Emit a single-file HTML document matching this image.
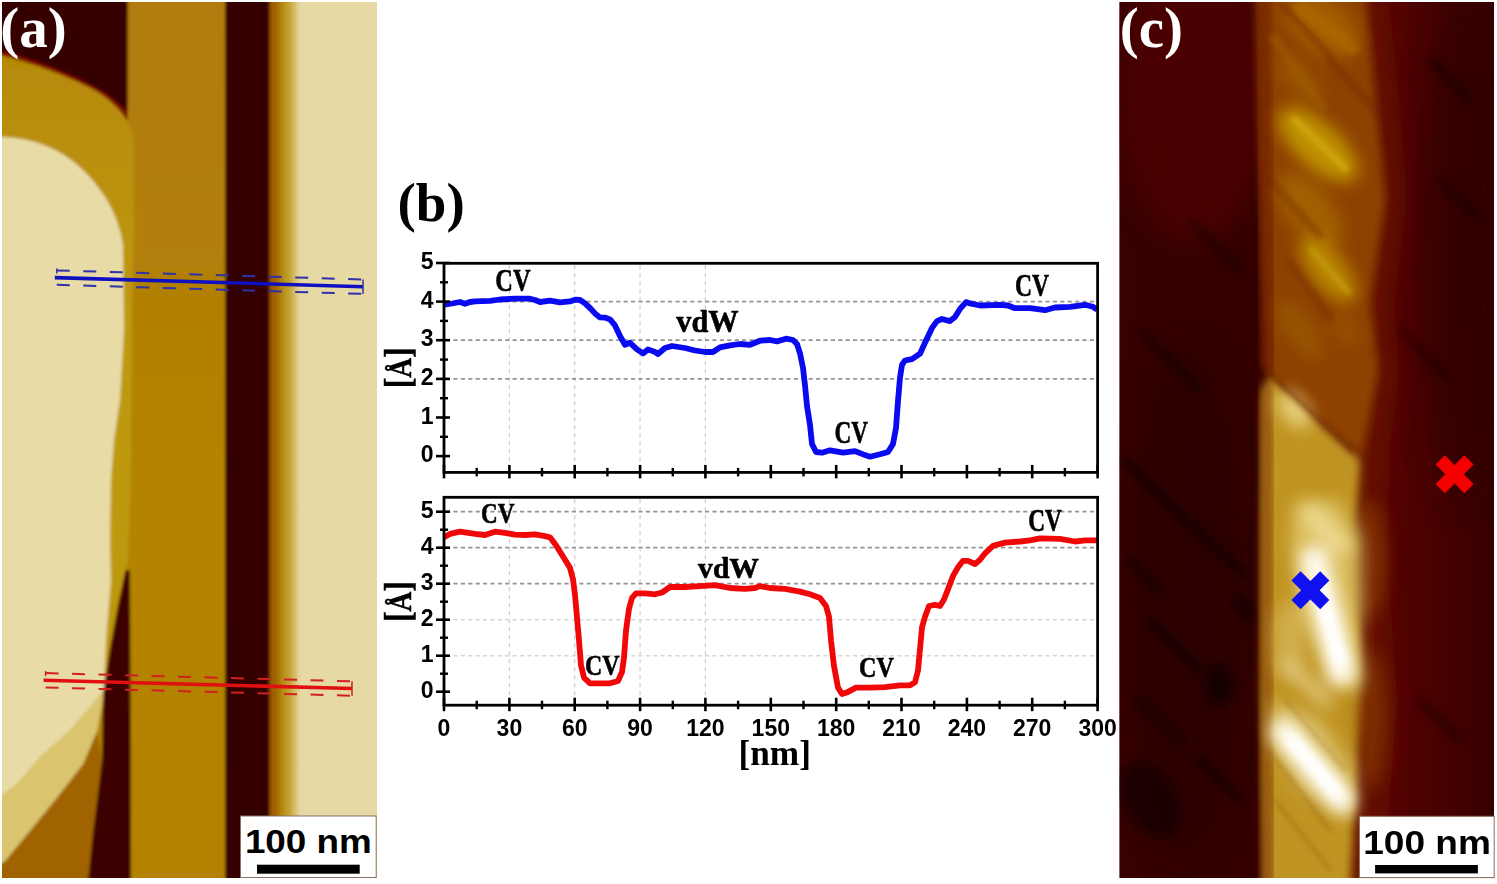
<!DOCTYPE html><html><head><meta charset="utf-8"><style>html,body{margin:0;padding:0;background:#fff;width:1497px;height:884px;overflow:hidden}svg{display:block}</style></head><body>
<svg width="1497" height="884" viewBox="0 0 1497 884">
<rect width="1497" height="884" fill="#fff"/>
<svg x="2" y="2" width="375" height="876" viewBox="2 2 375 876" overflow="hidden">
<defs><filter id="fa" x="-5%" y="-5%" width="110%" height="110%"><feGaussianBlur stdDeviation="1.6"/></filter><filter id="fa2" x="-20%" y="-20%" width="140%" height="140%"><feGaussianBlur stdDeviation="4"/></filter><linearGradient id="b4" x1="266" x2="300" y1="0" y2="0" gradientUnits="userSpaceOnUse"><stop offset="0" stop-color="#985000"/><stop offset="0.12" stop-color="#9c5600"/><stop offset="0.3" stop-color="#a26400"/><stop offset="0.48" stop-color="#b48a10"/><stop offset="0.7" stop-color="#c6a434"/><stop offset="0.88" stop-color="#d8c474"/><stop offset="1" stop-color="#e6d9a4"/></linearGradient><linearGradient id="lg" x1="0" x2="0" y1="60" y2="320" gradientUnits="userSpaceOnUse"><stop offset="0" stop-color="#b68a06"/><stop offset="1" stop-color="#be9810"/></linearGradient><linearGradient id="b2g" x1="0" x2="0" y1="0" y2="884" gradientUnits="userSpaceOnUse"><stop offset="0" stop-color="#b07c08"/><stop offset="0.35" stop-color="#b28006"/><stop offset="0.6" stop-color="#b48406"/><stop offset="1" stop-color="#b28206"/></linearGradient><pattern id="stripA" width="9" height="9" patternUnits="userSpaceOnUse" patternTransform="rotate(50)"><rect width="9" height="3" fill="#fff" opacity="0.10"/><rect y="5" width="9" height="2" fill="#000" opacity="0.04"/></pattern><pattern id="stripB" width="34" height="34" patternUnits="userSpaceOnUse" patternTransform="rotate(48)"><rect width="34" height="10" fill="#5a3000" opacity="0.10"/></pattern></defs>
<g filter="url(#fa)">
<rect x="-10" y="-10" width="400" height="900" fill="url(#b2g)"/>
<path d="M -10 700 L 100 700 L 97 731 L 83 764 L 55 800 L 28 833 L 5 861 L -10 880 Z" fill="#c09020"/>
<path d="M -10 780 L 5 861 L 28 833 L 55 800 L 83 764 L 97 731 L 102 760 L 94 833 L 88 890 L -10 890 Z" fill="#a06404"/>
<path d="M -10 50 L 127.5 50 L 127.5 122 L 134 135 L 134 230 L 132 300 L 131 480 L 128 560 L 125 575 L 110 650 L 103 700 L 97 731 L 83 764 L 55 800 L 28 833 L 5 861 L -10 870 Z" fill="url(#lg)"/>
<path d="M -10 760 L 2 795 L 17 784 L 41 756 L 69 731 L 91 706 L 104 690 L 103 700 L 97 731 L 83 764 L 55 800 L 28 833 L 5 861 L -10 870 Z" fill="#dac46e"/>
<path d="M -10 137 L 2 137 C 35 138 65 150 88 175 C 104 193 118 213 123 245 L 124 330 L 120 400 L 114 440 L 111 480 L 110 540 L 111 580 L 106 640 L 104 690 L 91 706 L 69 731 L 41 756 L 17 784 L 2 795 L -10 800 Z" fill="#e8dba6"/>
<path d="M -10 -10 L 127.5 -10 L 127.5 121 C 121 111 111 100 96 91 C 70 77 35 63 -10 53 Z" fill="#7a0c00"/>
<path d="M -10 -10 L 127.5 -10 L 127.5 112 C 119 102 106 92 86 82 C 60 69 30 57 -10 48 Z" fill="#340000"/>
<rect x="266" y="-10" width="34" height="900" fill="url(#b4)"/>
<rect x="300" y="-10" width="100" height="900" fill="#e6d9a4"/>
<rect x="225" y="-10" width="44.5" height="900" fill="#360000"/>
<path d="M 125.5 570 L 130 570 L 130.5 700 L 131 890 L 87 890 L 93 833 L 102 760 L 103 695 L 109.7 650 L 118 605 Z" fill="#3c0000"/>
</g>
<line x1="54.8" y1="277.6" x2="363.0" y2="286.7" stroke="#1010c0" stroke-width="3.6"/>
<line x1="56.8" y1="270.4" x2="363.0" y2="279.5" stroke="#3030a8" stroke-width="2" stroke-dasharray="13 13.5"/>
<line x1="56.8" y1="284.8" x2="363.0" y2="293.9" stroke="#3030a8" stroke-width="2" stroke-dasharray="13 13.5"/>
<line x1="363.0" y1="279.5" x2="363.0" y2="293.9" stroke="#3030a8" stroke-width="1.5"/>
<line x1="56.8" y1="268.4" x2="56.8" y2="273.4" stroke="#3030a8" stroke-width="1.5"/>
<line x1="43.6" y1="680.3" x2="352.0" y2="688.5" stroke="#e01010" stroke-width="3.6"/>
<line x1="45.6" y1="673.1" x2="352.0" y2="681.3" stroke="#d02020" stroke-width="2" stroke-dasharray="13 13.5"/>
<line x1="45.6" y1="687.5" x2="352.0" y2="695.7" stroke="#d02020" stroke-width="2" stroke-dasharray="13 13.5"/>
<line x1="352.0" y1="681.3" x2="352.0" y2="695.7" stroke="#d02020" stroke-width="1.5"/>
<line x1="45.6" y1="671.1" x2="45.6" y2="676.1" stroke="#d02020" stroke-width="1.5"/>
</svg>
<rect x="240.5" y="816.0" width="135.7" height="61.5" fill="#fff" stroke="#8a7060" stroke-width="1"/>
<text x="244.9" y="853.4" textLength="126.9" lengthAdjust="spacingAndGlyphs" style="font-family:'Liberation Sans',sans-serif;font-weight:bold;font-size:33px">100 nm</text>
<rect x="257.0" y="864.7" width="102.7" height="9.0" fill="#000"/>
<text x="0.3" y="46.6" fill="#fff" style="font-family:'Liberation Serif',serif;font-weight:bold;font-size:57px">(a)</text>
<svg x="1119.4" y="2" width="374.6" height="876" viewBox="1119.4 2 374.6 876" overflow="hidden">
<defs><filter id="cb2" x="-50%" y="-50%" width="200%" height="200%"><feGaussianBlur stdDeviation="2.5"/></filter><filter id="cb4" x="-50%" y="-50%" width="200%" height="200%"><feGaussianBlur stdDeviation="4"/></filter><filter id="cb8" x="-50%" y="-50%" width="200%" height="200%"><feGaussianBlur stdDeviation="8"/></filter><filter id="cb16" x="-50%" y="-50%" width="200%" height="200%"><feGaussianBlur stdDeviation="14"/></filter><linearGradient id="cbg" x1="1120" x2="1494" y1="0" y2="0" gradientUnits="userSpaceOnUse"><stop offset="0" stop-color="#380000"/><stop offset="0.35" stop-color="#340000"/><stop offset="0.68" stop-color="#5a0400"/><stop offset="0.8" stop-color="#4c0200"/><stop offset="1" stop-color="#360000"/></linearGradient></defs>
<rect x="1100" y="0" width="400" height="890" fill="url(#cbg)"/>
<g filter="url(#cb16)">
<ellipse cx="1195" cy="90" rx="75" ry="150" fill="#4e0000" opacity="0.9"/>
<ellipse cx="1185" cy="600" rx="60" ry="260" fill="#2a0000" opacity="0.7"/>
<ellipse cx="1460" cy="250" rx="40" ry="260" fill="#2c0000" opacity="0.5"/>
</g>
<g filter="url(#cb4)" stroke-linecap="round">
<line x1="1124" y1="460" x2="1244" y2="575" stroke="#0c0000" stroke-width="5" opacity="0.80"/>
<line x1="1239" y1="600" x2="1250" y2="615" stroke="#0c0000" stroke-width="10" opacity="0.80"/>
<line x1="1140" y1="330" x2="1200" y2="390" stroke="#0c0000" stroke-width="5" opacity="0.60"/>
<line x1="1190" y1="220" x2="1240" y2="270" stroke="#0c0000" stroke-width="5" opacity="0.50"/>
<line x1="1150" y1="620" x2="1200" y2="670" stroke="#0c0000" stroke-width="6" opacity="0.70"/>
<line x1="1130" y1="560" x2="1160" y2="590" stroke="#0c0000" stroke-width="6" opacity="0.60"/>
<line x1="1200" y1="760" x2="1240" y2="800" stroke="#0c0000" stroke-width="6" opacity="0.60"/>
<line x1="1140" y1="700" x2="1180" y2="740" stroke="#0c0000" stroke-width="8" opacity="0.70"/>
<line x1="1430" y1="60" x2="1470" y2="100" stroke="#0c0000" stroke-width="5" opacity="0.60"/>
<line x1="1440" y1="180" x2="1480" y2="220" stroke="#0c0000" stroke-width="5" opacity="0.60"/>
<line x1="1400" y1="330" x2="1450" y2="380" stroke="#0c0000" stroke-width="5" opacity="0.50"/>
<line x1="1420" y1="700" x2="1460" y2="740" stroke="#0c0000" stroke-width="5" opacity="0.50"/>
<ellipse cx="1219" cy="685" rx="14" ry="20" fill="#0c0000" opacity="0.8"/>
<ellipse cx="1150" cy="800" rx="25" ry="40" transform="rotate(-30 1150 800)" fill="#0c0000" opacity="0.7"/>
</g>
<g filter="url(#cb16)">
<path d="M 1300 -10 L 1378 -10 L 1390 100 L 1398 200 L 1385 300 L 1390 380 L 1380 450 L 1378 560 L 1388 700 L 1380 800 L 1375 890 L 1300 890 Z" fill="#6a1400"/>
</g>
<g filter="url(#cb4)">
<path d="M 1256 -10 L 1365 -10 L 1375 100 L 1385 200 L 1370 300 L 1378 370 L 1362 455 L 1268 380 L 1266 300 L 1260 150 Z" fill="#8e4200"/>
<path d="M 1268 378 L 1360 460 L 1355 550 L 1362 700 L 1355 800 L 1350 890 L 1266 890 L 1262 700 L 1263 400 Z" fill="#c09420"/>
</g>
<g filter="url(#cb4)"><line x1="1267" y1="385" x2="1268" y2="890" stroke="#9a5a08" stroke-width="12"/><line x1="1262" y1="-10" x2="1270" y2="370" stroke="#782400" stroke-width="16" opacity="0.85"/></g>
<g filter="url(#cb8)">
<ellipse cx="1322" cy="25" rx="42" ry="26" transform="rotate(40 1322 25)" fill="#a86400" opacity="0.80"/>
<ellipse cx="1300" cy="80" rx="30" ry="14" transform="rotate(50 1300 80)" fill="#a06000" opacity="0.60"/>
<ellipse cx="1318" cy="145" rx="50" ry="22" transform="rotate(42 1318 145)" fill="#c49a00" opacity="0.90"/>
<ellipse cx="1310" cy="210" rx="45" ry="22" transform="rotate(50 1310 210)" fill="#a86c00" opacity="0.70"/>
<ellipse cx="1328" cy="270" rx="40" ry="18" transform="rotate(52 1328 270)" fill="#c09000" opacity="0.85"/>
<ellipse cx="1300" cy="330" rx="35" ry="14" transform="rotate(55 1300 330)" fill="#9c6000" opacity="0.60"/>
<ellipse cx="1345" cy="330" rx="20" ry="12" transform="rotate(50 1345 330)" fill="#9c5c00" opacity="0.50"/>
<ellipse cx="1368" cy="560" rx="18" ry="60" transform="rotate(0 1368 560)" fill="#8a3c00" opacity="0.70"/>
<ellipse cx="1372" cy="720" rx="16" ry="70" transform="rotate(0 1372 720)" fill="#8a3c00" opacity="0.60"/>
<path d="M 1295 500 L 1340 500 L 1358 540 L 1358 690 L 1330 680 L 1300 610 L 1290 540 Z" fill="#dcc060" opacity="0.95"/>
<path d="M 1272 700 L 1320 720 L 1352 770 L 1350 820 L 1300 790 L 1276 750 Z" fill="#dcc470" opacity="0.9"/>
<ellipse cx="1294" cy="410" rx="22" ry="13" transform="rotate(50 1294 410)" fill="#e4cc78"/>
<ellipse cx="1290" cy="640" rx="16" ry="40" fill="#d4b458" opacity="0.8"/>
</g>
<g filter="url(#cb8)" stroke-linecap="round">
<line x1="1314" y1="560" x2="1342" y2="672" stroke="#fffcf0" stroke-width="28"/>
<line x1="1312" y1="515" x2="1340" y2="545" stroke="#ecd890" stroke-width="20"/>
<line x1="1284" y1="732" x2="1342" y2="800" stroke="#fffcf0" stroke-width="26"/>
<line x1="1288" y1="665" x2="1325" y2="700" stroke="#e4cc88" stroke-width="16" opacity="0.8"/>
</g>
<g filter="url(#cb4)" stroke-linecap="round">
<line x1="1318" y1="585" x2="1340" y2="660" stroke="#ffffff" stroke-width="12"/>
<line x1="1292" y1="740" x2="1336" y2="792" stroke="#ffffff" stroke-width="12"/>
</g>
<g filter="url(#cb2)" stroke-linecap="round">
<line x1="1268" y1="372" x2="1352" y2="450" stroke="#6a2000" stroke-width="5.0" opacity="0.60"/>
<line x1="1302" y1="8" x2="1352" y2="48" stroke="#b06c00" stroke-width="14.0" opacity="0.60"/>
<line x1="1274" y1="38" x2="1322" y2="106" stroke="#a05c00" stroke-width="10.0" opacity="0.50"/>
<line x1="1284" y1="6" x2="1332" y2="58" stroke="#6a1c00" stroke-width="5.0" opacity="0.45"/>
<line x1="1270" y1="180" x2="1320" y2="236" stroke="#6a1c00" stroke-width="5.0" opacity="0.40"/>
<line x1="1290" y1="262" x2="1330" y2="318" stroke="#6a1c00" stroke-width="5.0" opacity="0.40"/>
<line x1="1330" y1="60" x2="1375" y2="110" stroke="#6a1c00" stroke-width="5.0" opacity="0.40"/>
<line x1="1295" y1="120" x2="1345" y2="168" stroke="#d0a810" stroke-width="8.0" opacity="0.80"/>
<line x1="1312" y1="250" x2="1348" y2="292" stroke="#c8a010" stroke-width="6.0" opacity="0.70"/>
<line x1="1268" y1="750" x2="1330" y2="830" stroke="#8a5400" stroke-width="2.5" opacity="0.50"/>
<line x1="1275" y1="800" x2="1330" y2="870" stroke="#8a5400" stroke-width="2.5" opacity="0.50"/>
<line x1="1285" y1="700" x2="1345" y2="770" stroke="#8a5400" stroke-width="2.5" opacity="0.40"/>
</g>
<path d="M 1440.2 459.8 L 1469.0 488.6 M 1440.2 488.6 L 1469.0 459.8" stroke="#f40000" stroke-width="13" stroke-linecap="butt"/>
<path d="M 1296.0 575.8 L 1324.8 604.6 M 1296.0 604.6 L 1324.8 575.8" stroke="#1010f0" stroke-width="13" stroke-linecap="butt"/>
</svg>
<rect x="1359.4" y="816.3" width="134.8" height="61.3" fill="#fff" stroke="#8a7060" stroke-width="1"/>
<text x="1363.2" y="853.5" textLength="127.7" lengthAdjust="spacingAndGlyphs" style="font-family:'Liberation Sans',sans-serif;font-weight:bold;font-size:33px">100 nm</text>
<rect x="1375.1" y="865.0" width="102.8" height="8.4" fill="#000"/>
<text x="1119.8" y="46.6" fill="#fff" style="font-family:'Liberation Serif',serif;font-weight:bold;font-size:57px">(c)</text>
<text x="397.5" y="221.3" style="font-family:'Liberation Serif',serif;font-weight:bold;font-size:55px">(b)</text>
<line x1="509.4" y1="265.3" x2="509.4" y2="470.4" stroke="#cfcfcf" stroke-width="1.3" stroke-dasharray="4 4"/>
<line x1="574.7" y1="265.3" x2="574.7" y2="470.4" stroke="#cfcfcf" stroke-width="1.3" stroke-dasharray="4 4"/>
<line x1="640.1" y1="265.3" x2="640.1" y2="470.4" stroke="#cfcfcf" stroke-width="1.3" stroke-dasharray="4 4"/>
<line x1="705.4" y1="265.3" x2="705.4" y2="470.4" stroke="#cfcfcf" stroke-width="1.3" stroke-dasharray="4 4"/>
<line x1="446.0" y1="301.6" x2="1095.6" y2="301.6" stroke="#959595" stroke-width="1.8" stroke-dasharray="4.2 3.2"/>
<line x1="446.0" y1="340.2" x2="1095.6" y2="340.2" stroke="#959595" stroke-width="1.8" stroke-dasharray="4.2 3.2"/>
<line x1="446.0" y1="378.9" x2="1095.6" y2="378.9" stroke="#959595" stroke-width="1.8" stroke-dasharray="4.2 3.2"/>
<polyline points="444.0,304.7 452.0,303.5 460.0,302.0 465.0,303.8 470.0,302.0 475.0,301.4 490.0,300.9 500.0,299.5 515.0,298.7 530.0,298.7 535.0,300.0 540.0,302.0 550.0,300.7 560.0,302.4 570.0,301.4 575.0,299.7 580.0,300.0 585.0,303.4 590.0,308.0 595.0,313.4 600.0,317.4 605.0,317.6 610.0,319.4 615.0,325.4 620.0,336.0 625.0,344.8 630.0,342.8 637.0,349.4 643.0,353.4 648.0,349.4 655.0,352.0 658.0,354.0 665.0,348.0 672.0,346.0 685.0,348.0 695.0,350.5 705.0,352.0 713.0,352.0 720.0,347.4 730.0,345.4 740.0,344.0 750.0,344.8 760.0,340.7 770.0,340.0 777.0,341.4 786.0,338.7 793.0,340.0 797.0,344.0 800.0,353.4 803.0,368.0 805.0,385.4 807.0,406.0 810.0,425.0 812.0,444.0 816.0,452.0 822.0,452.7 830.0,450.3 843.0,452.7 855.0,451.1 865.0,455.1 870.0,456.7 880.0,454.3 888.0,452.0 893.0,444.0 896.0,428.0 898.0,401.0 900.0,377.5 902.0,364.8 905.0,360.5 912.0,359.1 920.0,353.7 925.0,342.8 932.0,327.9 937.0,321.1 942.0,319.0 950.0,321.1 955.0,317.0 960.0,308.9 966.0,302.1 970.0,303.4 980.0,305.5 1000.0,304.8 1008.0,305.5 1015.0,308.2 1030.0,308.2 1045.0,310.2 1055.0,307.5 1070.0,306.8 1085.0,304.8 1093.0,306.8 1097.0,309.6" fill="none" stroke="#0a0af0" stroke-width="5.8" stroke-linejoin="round" stroke-linecap="butt"/>
<rect x="444.0" y="263.3" width="653.6" height="209.1" fill="none" stroke="#000" stroke-width="2.8"/>
<line x1="436" y1="456.1" x2="450" y2="456.1" stroke="#000" stroke-width="2.6"/>
<text x="433.5" y="462.1" text-anchor="end" style="font-family:'Liberation Sans',sans-serif;font-weight:bold;font-size:23px">0</text>
<line x1="436" y1="417.5" x2="450" y2="417.5" stroke="#000" stroke-width="2.6"/>
<text x="433.5" y="423.5" text-anchor="end" style="font-family:'Liberation Sans',sans-serif;font-weight:bold;font-size:23px">1</text>
<line x1="436" y1="378.9" x2="450" y2="378.9" stroke="#000" stroke-width="2.6"/>
<text x="433.5" y="384.9" text-anchor="end" style="font-family:'Liberation Sans',sans-serif;font-weight:bold;font-size:23px">2</text>
<line x1="436" y1="340.2" x2="450" y2="340.2" stroke="#000" stroke-width="2.6"/>
<text x="433.5" y="346.2" text-anchor="end" style="font-family:'Liberation Sans',sans-serif;font-weight:bold;font-size:23px">3</text>
<line x1="436" y1="301.6" x2="450" y2="301.6" stroke="#000" stroke-width="2.6"/>
<text x="433.5" y="307.6" text-anchor="end" style="font-family:'Liberation Sans',sans-serif;font-weight:bold;font-size:23px">4</text>
<line x1="436" y1="263.0" x2="450" y2="263.0" stroke="#000" stroke-width="2.6"/>
<text x="433.5" y="269.0" text-anchor="end" style="font-family:'Liberation Sans',sans-serif;font-weight:bold;font-size:23px">5</text>
<line x1="440" y1="436.8" x2="448" y2="436.8" stroke="#000" stroke-width="2.4"/>
<line x1="440" y1="398.2" x2="448" y2="398.2" stroke="#000" stroke-width="2.4"/>
<line x1="440" y1="359.6" x2="448" y2="359.6" stroke="#000" stroke-width="2.4"/>
<line x1="440" y1="320.9" x2="448" y2="320.9" stroke="#000" stroke-width="2.4"/>
<line x1="440" y1="282.3" x2="448" y2="282.3" stroke="#000" stroke-width="2.4"/>
<line x1="444.0" y1="464.9" x2="444.0" y2="478.4" stroke="#000" stroke-width="2.6"/>
<line x1="476.7" y1="467.9" x2="476.7" y2="476.4" stroke="#000" stroke-width="2.4"/>
<line x1="509.4" y1="464.9" x2="509.4" y2="478.4" stroke="#000" stroke-width="2.6"/>
<line x1="542.0" y1="467.9" x2="542.0" y2="476.4" stroke="#000" stroke-width="2.4"/>
<line x1="574.7" y1="464.9" x2="574.7" y2="478.4" stroke="#000" stroke-width="2.6"/>
<line x1="607.4" y1="467.9" x2="607.4" y2="476.4" stroke="#000" stroke-width="2.4"/>
<line x1="640.1" y1="464.9" x2="640.1" y2="478.4" stroke="#000" stroke-width="2.6"/>
<line x1="672.8" y1="467.9" x2="672.8" y2="476.4" stroke="#000" stroke-width="2.4"/>
<line x1="705.4" y1="464.9" x2="705.4" y2="478.4" stroke="#000" stroke-width="2.6"/>
<line x1="738.1" y1="467.9" x2="738.1" y2="476.4" stroke="#000" stroke-width="2.4"/>
<line x1="770.8" y1="464.9" x2="770.8" y2="478.4" stroke="#000" stroke-width="2.6"/>
<line x1="803.5" y1="467.9" x2="803.5" y2="476.4" stroke="#000" stroke-width="2.4"/>
<line x1="836.2" y1="464.9" x2="836.2" y2="478.4" stroke="#000" stroke-width="2.6"/>
<line x1="868.8" y1="467.9" x2="868.8" y2="476.4" stroke="#000" stroke-width="2.4"/>
<line x1="901.5" y1="464.9" x2="901.5" y2="478.4" stroke="#000" stroke-width="2.6"/>
<line x1="934.2" y1="467.9" x2="934.2" y2="476.4" stroke="#000" stroke-width="2.4"/>
<line x1="966.9" y1="464.9" x2="966.9" y2="478.4" stroke="#000" stroke-width="2.6"/>
<line x1="999.6" y1="467.9" x2="999.6" y2="476.4" stroke="#000" stroke-width="2.4"/>
<line x1="1032.2" y1="464.9" x2="1032.2" y2="478.4" stroke="#000" stroke-width="2.6"/>
<line x1="1064.9" y1="467.9" x2="1064.9" y2="476.4" stroke="#000" stroke-width="2.4"/>
<line x1="1097.6" y1="464.9" x2="1097.6" y2="478.4" stroke="#000" stroke-width="2.6"/>
<text x="495.3" y="290.7" textLength="35.3" lengthAdjust="spacingAndGlyphs" stroke="#000" stroke-width="0.6" style="font-family:'Liberation Serif',serif;font-weight:bold;font-size:30.5px">CV</text>
<text x="676.3" y="331.5" textLength="62.3" lengthAdjust="spacingAndGlyphs" stroke="#000" stroke-width="0.6" style="font-family:'Liberation Serif',serif;font-weight:bold;font-size:31.0px">vdW</text>
<text x="834.6" y="443.4" textLength="33.5" lengthAdjust="spacingAndGlyphs" stroke="#000" stroke-width="0.6" style="font-family:'Liberation Serif',serif;font-weight:bold;font-size:30.5px">CV</text>
<text x="1015.0" y="295.5" textLength="34.1" lengthAdjust="spacingAndGlyphs" stroke="#000" stroke-width="0.6" style="font-family:'Liberation Serif',serif;font-weight:bold;font-size:30.5px">CV</text>
<line x1="509.4" y1="499.3" x2="509.4" y2="703.2" stroke="#cfcfcf" stroke-width="1.3" stroke-dasharray="4 4"/>
<line x1="574.7" y1="499.3" x2="574.7" y2="703.2" stroke="#cfcfcf" stroke-width="1.3" stroke-dasharray="4 4"/>
<line x1="640.1" y1="499.3" x2="640.1" y2="703.2" stroke="#cfcfcf" stroke-width="1.3" stroke-dasharray="4 4"/>
<line x1="705.4" y1="499.3" x2="705.4" y2="703.2" stroke="#cfcfcf" stroke-width="1.3" stroke-dasharray="4 4"/>
<line x1="446.0" y1="619.7" x2="1095.6" y2="619.7" stroke="#d6d6d6" stroke-width="1.6" stroke-dasharray="4 3.4"/>
<line x1="446.0" y1="655.7" x2="1095.6" y2="655.7" stroke="#d6d6d6" stroke-width="1.6" stroke-dasharray="4 3.4"/>
<line x1="446.0" y1="511.7" x2="1095.6" y2="511.7" stroke="#959595" stroke-width="1.8" stroke-dasharray="4.2 3.2"/>
<line x1="446.0" y1="547.7" x2="1095.6" y2="547.7" stroke="#959595" stroke-width="1.8" stroke-dasharray="4.2 3.2"/>
<line x1="446.0" y1="583.7" x2="1095.6" y2="583.7" stroke="#959595" stroke-width="1.8" stroke-dasharray="4.2 3.2"/>
<polyline points="444.0,537.3 450.0,533.9 460.0,531.7 475.0,533.9 485.0,535.0 495.0,531.7 505.0,532.8 515.0,534.6 525.0,535.0 535.0,534.4 545.0,536.2 550.0,537.3 556.0,545.2 563.0,556.6 570.0,567.9 573.0,579.2 575.0,595.0 577.0,617.6 579.0,640.3 581.0,665.2 584.0,677.6 590.0,683.3 600.0,683.3 610.0,683.3 618.0,681.0 622.0,672.0 624.0,657.6 626.0,630.5 629.0,608.8 632.0,597.9 636.0,593.4 645.0,593.4 655.0,594.3 662.0,592.5 670.0,587.0 685.0,587.0 700.0,586.1 715.0,585.2 730.0,588.0 745.0,588.9 755.0,588.0 760.0,586.1 770.0,588.0 785.0,588.9 800.0,591.6 810.0,594.3 820.0,597.9 826.0,606.0 829.0,616.7 831.0,640.3 834.0,666.1 838.0,687.6 842.0,694.0 848.0,691.9 856.0,687.6 870.0,687.6 885.0,687.2 900.0,685.4 910.0,685.4 915.0,682.2 918.0,670.4 920.0,648.9 922.0,627.4 925.0,616.7 929.0,606.0 935.0,604.9 940.0,606.0 944.0,599.5 949.0,586.6 953.0,575.9 958.0,567.3 963.0,560.8 968.0,560.8 975.0,564.0 980.0,559.8 985.0,553.3 993.0,545.8 1005.0,542.6 1020.0,541.5 1030.0,540.4 1040.0,538.3 1060.0,538.9 1075.0,541.5 1085.0,540.4 1097.0,540.4" fill="none" stroke="#f00808" stroke-width="5.8" stroke-linejoin="round" stroke-linecap="butt"/>
<rect x="444.0" y="497.3" width="653.6" height="207.9" fill="none" stroke="#000" stroke-width="2.8"/>
<line x1="436" y1="691.7" x2="450" y2="691.7" stroke="#000" stroke-width="2.6"/>
<text x="433.5" y="697.7" text-anchor="end" style="font-family:'Liberation Sans',sans-serif;font-weight:bold;font-size:23px">0</text>
<line x1="436" y1="655.7" x2="450" y2="655.7" stroke="#000" stroke-width="2.6"/>
<text x="433.5" y="661.7" text-anchor="end" style="font-family:'Liberation Sans',sans-serif;font-weight:bold;font-size:23px">1</text>
<line x1="436" y1="619.7" x2="450" y2="619.7" stroke="#000" stroke-width="2.6"/>
<text x="433.5" y="625.7" text-anchor="end" style="font-family:'Liberation Sans',sans-serif;font-weight:bold;font-size:23px">2</text>
<line x1="436" y1="583.7" x2="450" y2="583.7" stroke="#000" stroke-width="2.6"/>
<text x="433.5" y="589.7" text-anchor="end" style="font-family:'Liberation Sans',sans-serif;font-weight:bold;font-size:23px">3</text>
<line x1="436" y1="547.7" x2="450" y2="547.7" stroke="#000" stroke-width="2.6"/>
<text x="433.5" y="553.7" text-anchor="end" style="font-family:'Liberation Sans',sans-serif;font-weight:bold;font-size:23px">4</text>
<line x1="436" y1="511.7" x2="450" y2="511.7" stroke="#000" stroke-width="2.6"/>
<text x="433.5" y="517.7" text-anchor="end" style="font-family:'Liberation Sans',sans-serif;font-weight:bold;font-size:23px">5</text>
<line x1="440" y1="673.7" x2="448" y2="673.7" stroke="#000" stroke-width="2.4"/>
<line x1="440" y1="637.7" x2="448" y2="637.7" stroke="#000" stroke-width="2.4"/>
<line x1="440" y1="601.7" x2="448" y2="601.7" stroke="#000" stroke-width="2.4"/>
<line x1="440" y1="565.7" x2="448" y2="565.7" stroke="#000" stroke-width="2.4"/>
<line x1="440" y1="529.7" x2="448" y2="529.7" stroke="#000" stroke-width="2.4"/>
<line x1="444.0" y1="697.7" x2="444.0" y2="711.2" stroke="#000" stroke-width="2.6"/>
<line x1="476.7" y1="700.7" x2="476.7" y2="709.2" stroke="#000" stroke-width="2.4"/>
<text x="444.0" y="735.6" text-anchor="middle" style="font-family:'Liberation Sans',sans-serif;font-weight:bold;font-size:23px">0</text>
<line x1="509.4" y1="697.7" x2="509.4" y2="711.2" stroke="#000" stroke-width="2.6"/>
<line x1="542.0" y1="700.7" x2="542.0" y2="709.2" stroke="#000" stroke-width="2.4"/>
<text x="509.4" y="735.6" text-anchor="middle" style="font-family:'Liberation Sans',sans-serif;font-weight:bold;font-size:23px">30</text>
<line x1="574.7" y1="697.7" x2="574.7" y2="711.2" stroke="#000" stroke-width="2.6"/>
<line x1="607.4" y1="700.7" x2="607.4" y2="709.2" stroke="#000" stroke-width="2.4"/>
<text x="574.7" y="735.6" text-anchor="middle" style="font-family:'Liberation Sans',sans-serif;font-weight:bold;font-size:23px">60</text>
<line x1="640.1" y1="697.7" x2="640.1" y2="711.2" stroke="#000" stroke-width="2.6"/>
<line x1="672.8" y1="700.7" x2="672.8" y2="709.2" stroke="#000" stroke-width="2.4"/>
<text x="640.1" y="735.6" text-anchor="middle" style="font-family:'Liberation Sans',sans-serif;font-weight:bold;font-size:23px">90</text>
<line x1="705.4" y1="697.7" x2="705.4" y2="711.2" stroke="#000" stroke-width="2.6"/>
<line x1="738.1" y1="700.7" x2="738.1" y2="709.2" stroke="#000" stroke-width="2.4"/>
<text x="705.4" y="735.6" text-anchor="middle" style="font-family:'Liberation Sans',sans-serif;font-weight:bold;font-size:23px">120</text>
<line x1="770.8" y1="697.7" x2="770.8" y2="711.2" stroke="#000" stroke-width="2.6"/>
<line x1="803.5" y1="700.7" x2="803.5" y2="709.2" stroke="#000" stroke-width="2.4"/>
<text x="770.8" y="735.6" text-anchor="middle" style="font-family:'Liberation Sans',sans-serif;font-weight:bold;font-size:23px">150</text>
<line x1="836.2" y1="697.7" x2="836.2" y2="711.2" stroke="#000" stroke-width="2.6"/>
<line x1="868.8" y1="700.7" x2="868.8" y2="709.2" stroke="#000" stroke-width="2.4"/>
<text x="836.2" y="735.6" text-anchor="middle" style="font-family:'Liberation Sans',sans-serif;font-weight:bold;font-size:23px">180</text>
<line x1="901.5" y1="697.7" x2="901.5" y2="711.2" stroke="#000" stroke-width="2.6"/>
<line x1="934.2" y1="700.7" x2="934.2" y2="709.2" stroke="#000" stroke-width="2.4"/>
<text x="901.5" y="735.6" text-anchor="middle" style="font-family:'Liberation Sans',sans-serif;font-weight:bold;font-size:23px">210</text>
<line x1="966.9" y1="697.7" x2="966.9" y2="711.2" stroke="#000" stroke-width="2.6"/>
<line x1="999.6" y1="700.7" x2="999.6" y2="709.2" stroke="#000" stroke-width="2.4"/>
<text x="966.9" y="735.6" text-anchor="middle" style="font-family:'Liberation Sans',sans-serif;font-weight:bold;font-size:23px">240</text>
<line x1="1032.2" y1="697.7" x2="1032.2" y2="711.2" stroke="#000" stroke-width="2.6"/>
<line x1="1064.9" y1="700.7" x2="1064.9" y2="709.2" stroke="#000" stroke-width="2.4"/>
<text x="1032.2" y="735.6" text-anchor="middle" style="font-family:'Liberation Sans',sans-serif;font-weight:bold;font-size:23px">270</text>
<line x1="1097.6" y1="697.7" x2="1097.6" y2="711.2" stroke="#000" stroke-width="2.6"/>
<text x="1097.6" y="735.6" text-anchor="middle" style="font-family:'Liberation Sans',sans-serif;font-weight:bold;font-size:23px">300</text>
<text x="481.0" y="523.3" textLength="33.4" lengthAdjust="spacingAndGlyphs" stroke="#000" stroke-width="0.6" style="font-family:'Liberation Serif',serif;font-weight:bold;font-size:29.0px">CV</text>
<text x="698.1" y="577.5" textLength="60.9" lengthAdjust="spacingAndGlyphs" stroke="#000" stroke-width="0.6" style="font-family:'Liberation Serif',serif;font-weight:bold;font-size:30.0px">vdW</text>
<text x="585.1" y="674.8" textLength="34.5" lengthAdjust="spacingAndGlyphs" stroke="#000" stroke-width="0.6" style="font-family:'Liberation Serif',serif;font-weight:bold;font-size:29.0px">CV</text>
<text x="859.0" y="677.4" textLength="34.8" lengthAdjust="spacingAndGlyphs" stroke="#000" stroke-width="0.6" style="font-family:'Liberation Serif',serif;font-weight:bold;font-size:29.0px">CV</text>
<text x="1028.2" y="530.5" textLength="33.6" lengthAdjust="spacingAndGlyphs" stroke="#000" stroke-width="0.6" style="font-family:'Liberation Serif',serif;font-weight:bold;font-size:30.5px">CV</text>
<text x="738.5" y="765" textLength="72.5" lengthAdjust="spacingAndGlyphs" style="font-family:'Liberation Serif',serif;font-weight:bold;font-size:35px">[nm]</text>
<text transform="translate(411 367.8) rotate(-90)" x="0" y="0" text-anchor="middle" textLength="41" stroke="#000" stroke-width="0.5" lengthAdjust="spacingAndGlyphs" style="font-family:'Liberation Serif',serif;font-weight:bold;font-size:37px">[<tspan style="font-size:32px">Å</tspan>]</text>
<text transform="translate(411 601.6) rotate(-90)" x="0" y="0" text-anchor="middle" textLength="41" stroke="#000" stroke-width="0.5" lengthAdjust="spacingAndGlyphs" style="font-family:'Liberation Serif',serif;font-weight:bold;font-size:37px">[<tspan style="font-size:32px">Å</tspan>]</text>
</svg></body></html>
